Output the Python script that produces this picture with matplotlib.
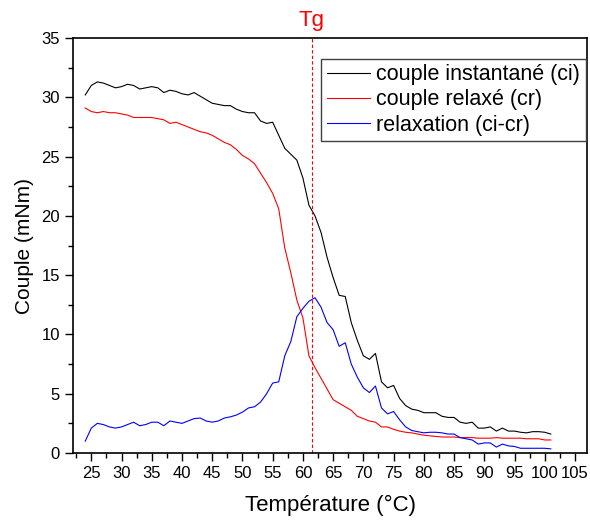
import matplotlib
matplotlib.use('Agg')
import matplotlib.pyplot as plt
from matplotlib.ticker import MultipleLocator

plt.rcParams['font.family'] = ['Liberation Sans', 'DejaVu Sans']

# Température (°C)
temperature = list(range(24, 102))

# couple instantané (ci), mNm
couple_ci = [30.2, 31.0, 31.3, 31.2, 31.0, 30.8, 30.9, 31.1, 31.0, 30.7,
             30.8, 30.9, 30.8, 30.4, 30.6, 30.5, 30.3, 30.2, 30.4, 30.1,
             29.8, 29.5, 29.4, 29.3, 29.3, 29.0, 28.8, 28.7, 28.7, 28.0,
             27.8, 27.9, 26.8, 25.7, 25.2, 24.7, 23.2, 20.9, 20.0, 18.6,
             16.5, 14.8, 13.3, 13.2, 11.0, 9.5, 8.2, 7.9, 8.4, 6.0,
             5.5, 5.7, 4.6, 4.0, 3.7, 3.6, 3.4, 3.4, 3.4, 3.1,
             3.0, 3.0, 2.6, 2.5, 2.6, 2.1, 2.1, 2.2, 1.85, 2.1,
             1.85, 1.85, 1.75, 1.7, 1.8, 1.8, 1.75, 1.6]

# couple relaxé (cr), mNm
couple_cr = [29.1, 28.8, 28.7, 28.8, 28.7, 28.7, 28.6, 28.5, 28.3, 28.3,
             28.3, 28.3, 28.2, 28.1, 27.8, 27.9, 27.7, 27.5, 27.3, 27.1,
             27.0, 26.8, 26.5, 26.2, 26.0, 25.6, 25.1, 24.8, 24.4, 23.6,
             22.8, 21.9, 20.6, 17.3, 15.2, 12.9, 11.4, 8.2, 7.2, 6.3,
             5.4, 4.5, 4.2, 3.9, 3.6, 3.1, 2.9, 2.7, 2.6, 2.2,
             2.2, 2.0, 1.85, 1.75, 1.7, 1.6, 1.5, 1.45, 1.4, 1.35,
             1.35, 1.35, 1.3, 1.3, 1.3, 1.25, 1.25, 1.25, 1.3, 1.25,
             1.25, 1.25, 1.25, 1.2, 1.2, 1.2, 1.1, 1.1]

# relaxation (ci-cr), mNm
relaxation = [1.0, 2.1, 2.5, 2.4, 2.2, 2.1, 2.2, 2.4, 2.6, 2.3,
              2.4, 2.6, 2.6, 2.3, 2.7, 2.6, 2.5, 2.7, 2.9, 2.95,
              2.7, 2.6, 2.7, 2.95, 3.05, 3.2, 3.45, 3.8, 3.9, 4.3,
              5.0, 5.9, 6.0, 8.2, 9.4, 11.5, 12.2, 12.8, 13.1, 12.3,
              11.0, 10.4, 9.0, 9.3, 7.5, 6.4, 5.5, 5.1, 5.65, 3.8,
              3.3, 3.5, 2.8, 2.2, 1.9, 1.8, 1.7, 1.75, 1.75, 1.7,
              1.6, 1.6, 1.3, 1.2, 1.1, 0.75, 0.85, 0.85, 0.5, 0.75,
              0.6, 0.55, 0.4, 0.4, 0.4, 0.4, 0.4, 0.35]

tg = 61.5

fig = plt.figure(figsize=(5.9, 5.21), dpi=100)
ax = fig.add_axes([0.124, 0.1305, 0.871, 0.7965])

ax.plot(temperature, couple_ci, color='black', lw=0.8, label='couple instantané (ci)')
ax.plot(temperature, couple_cr, color='red', lw=0.8, label='couple relaxé (cr)')
ax.plot(temperature, relaxation, color='blue', lw=0.8, label='relaxation (ci-cr)')

# Tg marker
ax.axvline(tg, color='red', ls=(0, (3, 2)), lw=0.8)
ax.text(tg, 35.6, 'Tg', color='red', fontsize=16, ha='center', va='bottom')

ax.set_xlim(22, 107)
ax.set_ylim(0, 35)
ax.xaxis.set_major_locator(MultipleLocator(5))
ax.xaxis.set_minor_locator(MultipleLocator(2.5))
ax.yaxis.set_major_locator(MultipleLocator(5))
ax.yaxis.set_minor_locator(MultipleLocator(2.5))
ax.tick_params(which='major', direction='out', length=6, width=1, labelsize=12)
ax.tick_params(which='minor', direction='out', length=3.5, width=1)
for s in ax.spines.values():
    s.set_linewidth(1.2)

ax.set_xlabel('Température (°C)', fontsize=16, labelpad=10)
ax.set_ylabel('Couple (mNm)', fontsize=15, labelpad=5)

leg = ax.legend(loc='upper right', bbox_to_anchor=(0.997, 0.95), borderaxespad=0,
                fontsize=15.5, fancybox=False, edgecolor='#404040',
                handlelength=2.0, handletextpad=0.3, borderpad=0.25, labelspacing=0.2,
                framealpha=1)
leg.get_frame().set_linewidth(1.0)

fig.savefig('out.png', dpi=100)
